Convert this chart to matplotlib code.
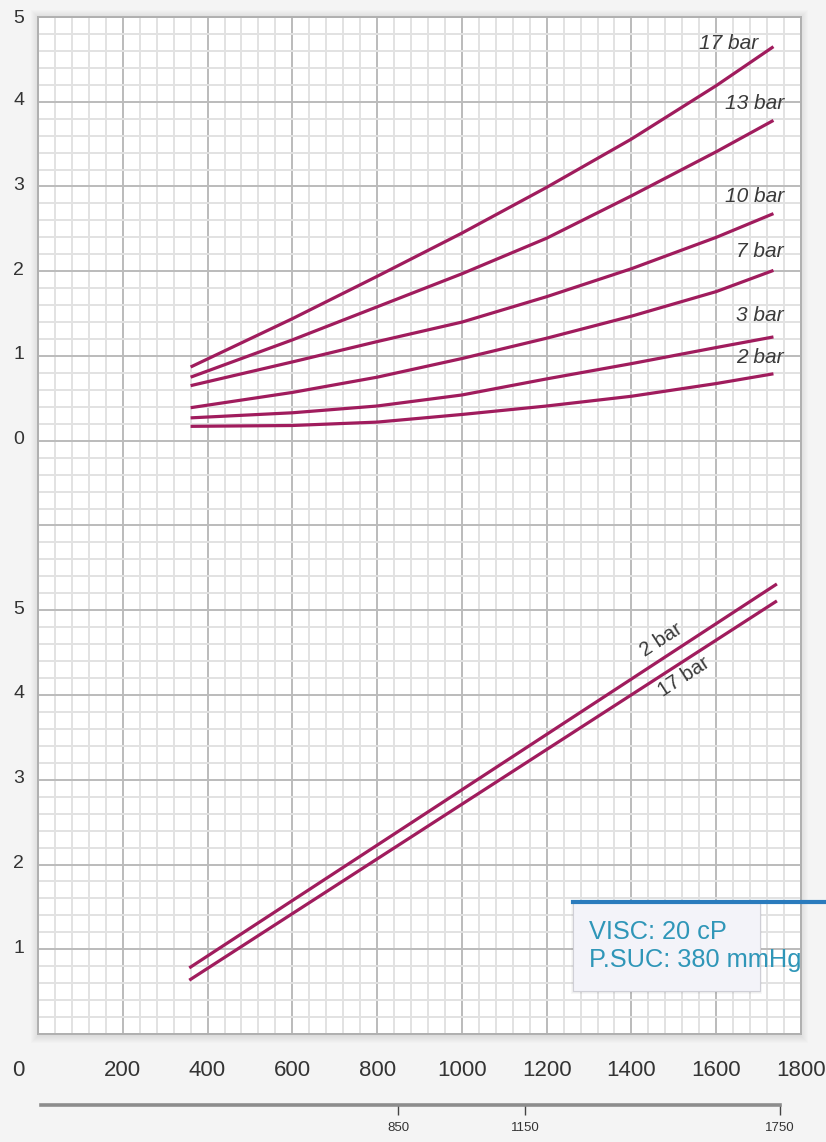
import matplotlib
matplotlib.use("Agg")
import matplotlib.pyplot as plt
from matplotlib.patches import Rectangle
from matplotlib.lines import Line2D
from matplotlib.ticker import MultipleLocator
from matplotlib.transforms import ScaledTranslation

plt.rcParams['font.family'] = ['Liberation Sans', 'DejaVu Sans']

# ---------------- data ----------------
rpm_top = [360, 600, 800, 1000, 1200, 1400, 1600, 1735]
top_17bar = [0.87, 1.44, 1.94, 2.45, 2.99, 3.56, 4.19, 4.65]
top_13bar = [0.75, 1.19, 1.58, 1.97, 2.39, 2.89, 3.41, 3.78]
top_10bar = [0.65, 0.93, 1.17, 1.40, 1.70, 2.03, 2.40, 2.68]
top_7bar = [0.39, 0.57, 0.75, 0.97, 1.21, 1.47, 1.76, 2.01]
top_3bar = [0.27, 0.33, 0.41, 0.54, 0.73, 0.91, 1.10, 1.225]
top_2bar = [0.17, 0.18, 0.22, 0.31, 0.41, 0.525, 0.675, 0.79]
top_series = [top_17bar, top_13bar, top_10bar, top_7bar, top_3bar, top_2bar]
top_labels = ['17 bar', '13 bar', '10 bar', '7 bar', '3 bar', '2 bar']

rpm_bot = [360, 1740]
bot_2bar = [0.79, 5.30]
bot_17bar = [0.645, 5.10]
bot_labels = ['2 bar', '17 bar']

x_ticks = [0, 200, 400, 600, 800, 1000, 1200, 1400, 1600, 1800]
x_ticklabels = ['', '200', '400', '600', '800', '1000', '1200', '1400', '1600', '1800']
top_yticks = [-1, 0, 1, 2, 3, 4, 5]
top_yticklabels = ['', '0', '1', '2', '3', '4', '5']
bot_yticks = [0, 1, 2, 3, 4, 5, 6]
bot_yticklabels = ['', '1', '2', '3', '4', '5', '']
rpm_scale_ticks = [850, 1150, 1750]
info_lines = ['VISC: 20 cP', 'P.SUC: 380 mmHg']

# ---------------- layout ----------------
W, H = 826, 1142
def fx(px):
    return px / W
def fy(py):
    return 1 - py / H

L, R = 38, 801
T, M, B = 17, 525.5, 1034

LINE_C = '#a01c5d'
TXT_C = '#333333'
fig = plt.figure(figsize=(W / 100, H / 100), dpi=100, facecolor='#f4f4f4')

# soft shadow around the chart frame
for k in range(1, 9):
    fig.add_artist(Rectangle((fx(L - k + 1), fy(B + k + 1)), (R - L + 2 * k - 2) / W,
                             (B - T + 2 * k) / H, transform=fig.transFigure,
                             facecolor='black', edgecolor='none', alpha=0.012, zorder=-1))

ax_top = fig.add_axes([fx(L), fy(M), (R - L) / W, (M - T) / H])
ax_bot = fig.add_axes([fx(L), fy(B), (R - L) / W, (B - M) / H])

for ax, lim in ((ax_top, (-1, 5)), (ax_bot, (0, 6))):
    ax.set_facecolor('white')
    ax.set_xlim(0, 1800)
    ax.set_ylim(*lim)
    ax.xaxis.set_major_locator(MultipleLocator(200))
    ax.xaxis.set_minor_locator(MultipleLocator(40))
    ax.yaxis.set_minor_locator(MultipleLocator(0.2))
    ax.grid(which='minor', color='#e2e2e2', lw=1.4, zorder=0)
    ax.grid(which='major', color='#bbbbbb', lw=1.4, zorder=0)
    ax.set_axisbelow(True)
    ax.tick_params(which='both', length=0)
    ax.tick_params(axis='y', pad=10, labelsize=14, labelcolor=TXT_C)
    for s in ax.spines.values():
        s.set_color('#b0b0b0')
        s.set_linewidth(1.4)

ax_top.spines['bottom'].set_visible(False)
ax_bot.spines['top'].set_visible(False)

ax_top.set_yticks(top_yticks)
ax_top.set_yticklabels(top_yticklabels)
ax_top.set_xticks(x_ticks)
ax_top.set_xticklabels([])

ax_bot.set_yticks(bot_yticks)
ax_bot.set_yticklabels(bot_yticklabels)
ax_bot.set_xticks(x_ticks)
ax_bot.set_xticklabels(x_ticklabels)
ax_bot.tick_params(axis='x', pad=19, labelsize=16, labelcolor=TXT_C)
ax_bot.annotate('0', xy=(0, 0), xycoords=('data', 'axes fraction'),
                xytext=(-20, -37), textcoords='offset pixels',
                ha='center', va='center', fontsize=16, color=TXT_C)

# y labels sit a little above their grid lines
up = ScaledTranslation(0, 3 / 100, fig.dpi_scale_trans)
for ax in (ax_top, ax_bot):
    for lab in ax.get_yticklabels():
        if lab.get_text() != '5' or ax is ax_bot:
            lab.set_transform(lab.get_transform() + up)

# top curves
for ys in top_series:
    ax_top.plot(rpm_top, ys, color=LINE_C, lw=2.3, solid_capstyle='butt',
                solid_joinstyle='round', zorder=3)

top_label_pos = [(1698, 4.69), (1760, 3.98), (1760, 2.88), (1760, 2.23), (1760, 1.48), (1760, 0.98)]
for lab, (lx, ly) in zip(top_labels, top_label_pos):
    ax_top.text(lx, ly, lab, ha='right', va='center', fontsize=15, style='italic',
                color='#3a3a3a', zorder=4)

# bottom lines
ax_bot.plot(rpm_bot, bot_2bar, color=LINE_C, lw=2.3, zorder=3)
ax_bot.plot(rpm_bot, bot_17bar, color=LINE_C, lw=2.3, zorder=3)
bot_label_pos = [(1471, 4.65), (1524, 4.21)]
for lab, (lx, ly) in zip(bot_labels, bot_label_pos):
    ax_bot.text(lx, ly, lab, ha='center', va='center', rotation=33, fontsize=14.5,
                color='#3a3a3a', rotation_mode='anchor', zorder=4)

# secondary rpm scale
ax_s = fig.add_axes([fx(L), fy(1105), (R - L) / W, 0.0001])
ax_s.set_xlim(0, 1800)
ax_s.patch.set_visible(False)
for side in ('top', 'left', 'right'):
    ax_s.spines[side].set_visible(False)
ax_s.spines['bottom'].set_color('#8c8c8c')
ax_s.spines['bottom'].set_linewidth(2.6)
ax_s.spines['bottom'].set_bounds(8, 1750)
ax_s.set_yticks([])
ax_s.set_xticks(rpm_scale_ticks)
ax_s.set_xticklabels([str(v) for v in rpm_scale_ticks])
ax_s.tick_params(axis='x', direction='out', length=7, width=1, color='#444444',
                 pad=5, labelsize=9.5, labelcolor=TXT_C)

# info box
bx0, by0, bx1, by1 = 573, 901, 760, 991
for k in range(1, 4):
    fig.add_artist(Rectangle((fx(bx0 - k + 1), fy(by1 + k)), (bx1 - bx0 + 2 * k - 2) / W,
                             (by1 - by0 + k) / H, transform=fig.transFigure,
                             facecolor='black', edgecolor='none', alpha=0.03, zorder=4))
fig.add_artist(Rectangle((fx(bx0), fy(by1)), (bx1 - bx0) / W, (by1 - by0) / H,
                         transform=fig.transFigure, facecolor='#f3f3f9',
                         edgecolor='#cfcfd6', lw=0.8, zorder=5))
fig.add_artist(Line2D([fx(bx0), 1.0], [fy(901.5), fy(901.5)], transform=fig.transFigure,
                      color='#2a7bbd', lw=3, zorder=6))
fig.text(fx(589), fy(932), info_lines[0], ha='left', va='center', fontsize=18.3,
         color='#2f96b8', zorder=7)
fig.text(fx(589), fy(960), info_lines[1], ha='left', va='center', fontsize=18.3,
         color='#2f96b8', zorder=7)

fig.savefig('out.png', dpi=100, facecolor=fig.get_facecolor())
